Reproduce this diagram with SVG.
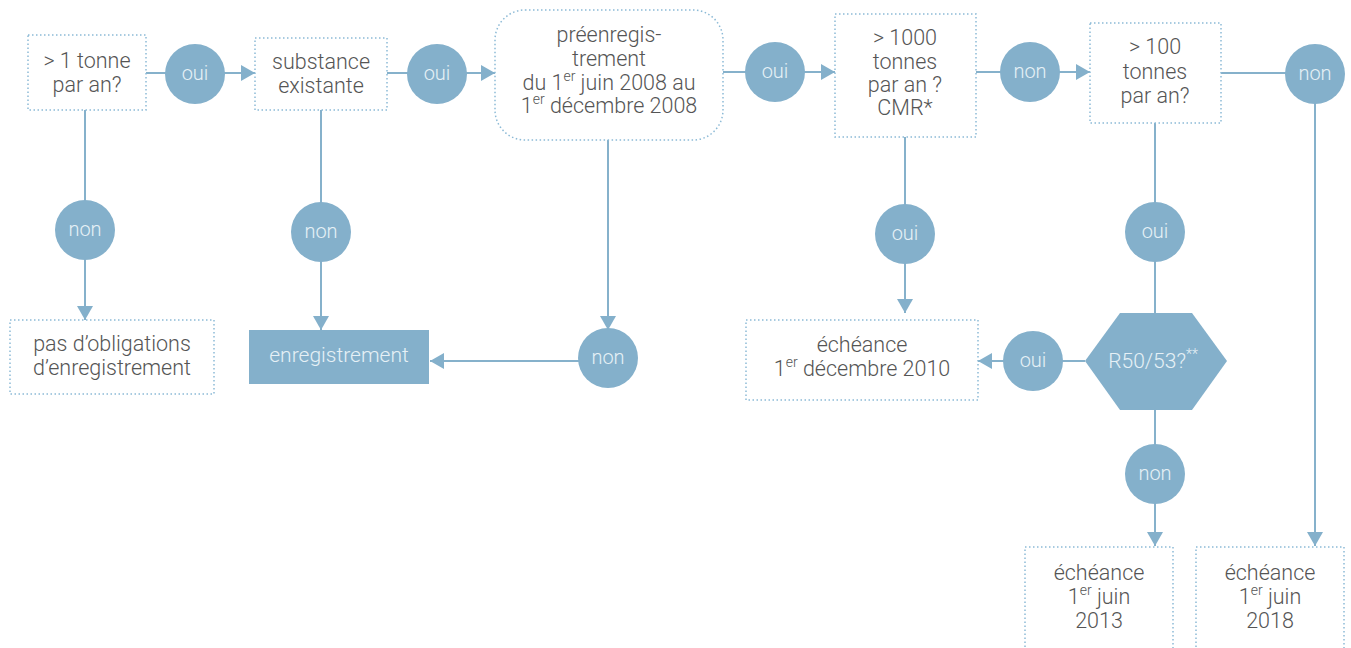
<svg xmlns="http://www.w3.org/2000/svg" width="1351" height="648" viewBox="0 0 1351 648">
<style>
.box{fill:#fff;stroke:#8cbad6;stroke-width:1.5;stroke-dasharray:1.5 2.5}
.t{font-family:Roboto,"Liberation Sans",sans-serif;font-weight:300;font-size:21.5px;fill:#555;text-anchor:middle}
.c{fill:#84b0cb}
.ct{font-family:Roboto,"Liberation Sans",sans-serif;font-weight:300;font-size:20px;fill:#e6f0f6;text-anchor:middle}
.ln{stroke:#86b1cb;stroke-width:2;fill:none}
.fill{fill:#84b0cb}
.sup{font-size:14px}
</style>
<defs>
<marker id="ah" markerUnits="userSpaceOnUse" markerWidth="14" markerHeight="16" viewBox="0 0 14 16" refX="14" refY="8" orient="auto">
<path d="M0,0 L14,8 L0,16 Z" fill="#84b0cb"/>
</marker>
</defs>
<g id="connectors">
<line class="ln" x1="146" y1="73" x2="255" y2="73" marker-end="url(#ah)"/>
<line class="ln" x1="387" y1="73" x2="495" y2="73" marker-end="url(#ah)"/>
<line class="ln" x1="723" y1="72" x2="835" y2="72" marker-end="url(#ah)"/>
<line class="ln" x1="976" y1="72" x2="1090" y2="72" marker-end="url(#ah)"/>
<polyline class="ln" points="1221,73 1315,73 1315,546" marker-end="url(#ah)"/>
<line class="ln" x1="85" y1="110" x2="85" y2="320" marker-end="url(#ah)"/>
<line class="ln" x1="321" y1="110" x2="321" y2="330" marker-end="url(#ah)"/>
<line class="ln" x1="608" y1="140" x2="608" y2="330" marker-end="url(#ah)"/>
<line class="ln" x1="580" y1="361" x2="430" y2="361" marker-end="url(#ah)"/>
<line class="ln" x1="905" y1="137" x2="905" y2="313" marker-end="url(#ah)"/>
<line class="ln" x1="1155" y1="123" x2="1155" y2="313"/>
<line class="ln" x1="1085" y1="361" x2="978" y2="361" marker-end="url(#ah)"/>
<line class="ln" x1="1155" y1="410" x2="1155" y2="546" marker-end="url(#ah)"/>
</g>
<g id="n1"><rect class="box" x="28" y="35" width="118" height="75"/><text class="t" x="87" y="68">&gt; 1 tonne</text><text class="t" x="87" y="92">par an?</text></g>
<g id="c1"><circle class="c" cx="195" cy="74" r="30"/><text class="ct" x="195" y="80">oui</text></g>
<g id="n2"><rect class="box" x="255" y="38" width="132" height="72"/><text class="t" x="321" y="69">substance</text><text class="t" x="321" y="93">existante</text></g>
<g id="c2"><circle class="c" cx="437" cy="74" r="30"/><text class="ct" x="437" y="80">oui</text></g>
<g id="n3"><rect class="box" x="495" y="10" width="228" height="130" rx="30"/>
<text class="t" x="609" y="42">préenregis-</text>
<text class="t" x="609" y="66">trement</text>
<text class="t" x="609" y="90">du 1<tspan class="sup" dy="-9">er</tspan><tspan dy="9"> juin 2008 au</tspan></text>
<text class="t" x="609" y="113">1<tspan class="sup" dy="-9">er</tspan><tspan dy="9"> décembre 2008</tspan></text></g>
<g id="c3"><circle class="c" cx="775" cy="72" r="30"/><text class="ct" x="775" y="78">oui</text></g>
<g id="n4"><rect class="box" x="835" y="14" width="141" height="123"/>
<text class="t" x="905" y="45">&gt; 1000</text><text class="t" x="905" y="69">tonnes</text><text class="t" x="905" y="92">par an ?</text><text class="t" x="905" y="115">CMR*</text></g>
<g id="c4"><circle class="c" cx="1030" cy="72" r="30"/><text class="ct" x="1030" y="78">non</text></g>
<g id="n5"><rect class="box" x="1090" y="23" width="131" height="100"/>
<text class="t" x="1155" y="54">&gt; 100</text><text class="t" x="1155" y="79">tonnes</text><text class="t" x="1155" y="103">par an?</text></g>
<g id="c5"><circle class="c" cx="1315" cy="74" r="30"/><text class="ct" x="1315" y="80">non</text></g>
<g id="c6"><circle class="c" cx="85" cy="230" r="30"/><text class="ct" x="85" y="236">non</text></g>
<g id="n6"><rect class="box" x="10" y="320" width="204" height="74"/><text class="t" x="112" y="351">pas d’obligations</text><text class="t" x="112" y="375">d’enregistrement</text></g>
<g id="c7"><circle class="c" cx="321" cy="232" r="30"/><text class="ct" x="321" y="238">non</text></g>
<g id="n7"><rect class="fill" x="249" y="330" width="180" height="54"/><text class="ct" x="339" y="362" style="font-size:21px">enregistrement</text></g>
<g id="c8"><circle class="c" cx="608" cy="358" r="30"/><text class="ct" x="608" y="364">non</text></g>
<g id="c9"><circle class="c" cx="905" cy="234" r="30"/><text class="ct" x="905" y="240">oui</text></g>
<g id="n8"><rect class="box" x="746" y="320" width="232" height="80"/>
<text class="t" x="862" y="352">échéance</text><text class="t" x="862" y="376">1<tspan class="sup" dy="-9">er</tspan><tspan dy="9"> décembre 2010</tspan></text></g>
<g id="c10"><circle class="c" cx="1155" cy="232" r="30"/><text class="ct" x="1155" y="238">oui</text></g>
<g id="n9"><polygon class="fill" points="1085,361 1120,313 1192,313 1227,361 1192,410 1120,410"/><text class="ct" x="1153" y="368" style="font-size:21px">R50/53?<tspan class="sup" dy="-9">**</tspan></text></g>
<g id="c11"><circle class="c" cx="1033" cy="361" r="30"/><text class="ct" x="1033" y="367">oui</text></g>
<g id="c12"><circle class="c" cx="1155" cy="474" r="30"/><text class="ct" x="1155" y="480">non</text></g>
<g id="n10"><rect class="box" x="1025" y="547" width="148" height="110"/>
<text class="t" x="1099" y="580">échéance</text><text class="t" x="1099" y="604">1<tspan class="sup" dy="-9">er</tspan><tspan dy="9"> juin</tspan></text><text class="t" x="1099" y="628">2013</text></g>
<g id="n11"><rect class="box" x="1196" y="547" width="148" height="110"/>
<text class="t" x="1270" y="580">échéance</text><text class="t" x="1270" y="604">1<tspan class="sup" dy="-9">er</tspan><tspan dy="9"> juin</tspan></text><text class="t" x="1270" y="628">2018</text></g>
</svg>
